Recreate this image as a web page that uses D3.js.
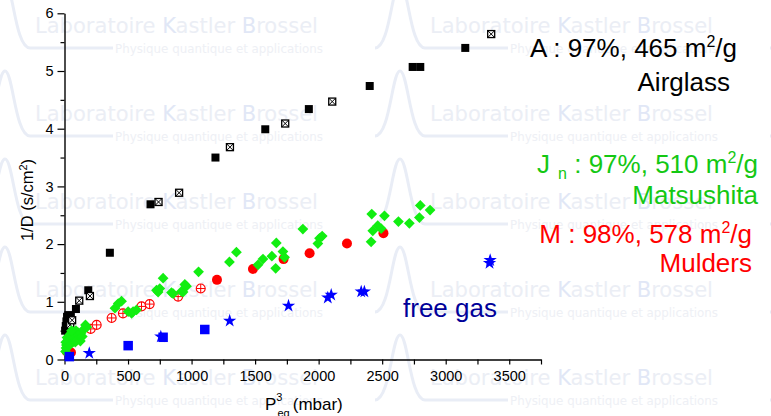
<!DOCTYPE html>
<html>
<head>
<meta charset="utf-8">
<script src="https://cdn.jsdelivr.net/npm/d3@7"></script>
<style>
  body { margin: 0; background: #fff; }
  text { font-family: "Liberation Sans", Arial, sans-serif; }
</style>
</head>
<body>
<div id="chart"></div>
<script>
// A : Airglass, filled and crossed squares
const airglassFilled = [
    [5, 0.50], [10, 0.58], [15, 0.66], [20, 0.74], [30, 0.77], [40, 0.70], [50, 0.75],
    [25, 0.62], [35, 0.55], [90, 0.875], [187, 1.20], [357, 1.85], [677, 2.69],
    [1188, 3.50], [1580, 3.99], [1923, 4.34], [2402, 4.74], [2740, 5.07], [2800, 5.07], [3154, 5.40]
];
const airglassCrossed = [
    [45, 0.60], [60, 0.68], [116, 1.02], [200, 1.10], [740, 2.73], [902, 2.89],
    [1302, 3.68], [1737, 4.09], [2107, 4.47], [3358, 5.64]
];

// Jn : Matsushita, green diamonds
const matsushita = [
    [8, 0.14], [12, 0.20], [15, 0.25], [20, 0.30], [25, 0.22], [30, 0.35], [35, 0.28],
    [40, 0.40], [45, 0.32], [50, 0.45], [55, 0.36], [60, 0.42], [65, 0.30], [70, 0.48],
    [75, 0.38], [80, 0.44], [90, 0.50], [95, 0.40], [100, 0.35], [105, 0.47], [110, 0.42],
    [120, 0.38], [125, 0.32], [130, 0.46], [140, 0.40], [150, 0.52], [165, 0.60], [175, 0.56],
    [20, 0.38], [10, 0.30], [40, 0.25], [55, 0.50], [85, 0.30],
    [397, 0.89], [423, 0.97], [449, 1.01], [501, 0.83], [528, 0.80], [540, 0.83], [567, 0.86],
    [724, 1.20], [737, 1.17], [750, 1.23], [776, 1.41], [842, 1.16], [855, 1.14], [920, 1.18],
    [933, 1.17], [947, 1.30], [960, 1.27], [1055, 1.52], [1298, 1.69], [1353, 1.86],
    [1523, 1.64], [1562, 1.74], [1632, 1.79], [1662, 1.58], [1667, 2.02], [1719, 1.87],
    [1732, 1.77], [1876, 2.26], [1994, 2.01], [2007, 2.10], [2028, 2.14],
    [2413, 2.04], [2418, 2.52], [2426, 2.23], [2465, 2.32], [2492, 2.27], [2518, 2.49],
    [2628, 2.39], [2714, 2.36], [2793, 2.46], [2800, 2.67], [2877, 2.59]
];

// M : Mulders, red filled and crossed circles
const muldersFilled = [
    [17, 0.14], [51, 0.12], [1200, 1.38], [1483, 1.57], [1724, 1.74], [1929, 1.84], [2223, 2.01], [2510, 2.19]
];
const muldersCrossed = [
    [206, 0.53], [253, 0.60], [371, 0.72], [460, 0.80], [606, 0.92], [670, 0.96], [894, 1.09], [1072, 1.23]
];

// free gas, blue squares and stars
const freeGasSquares = [[38, 0.05], [501, 0.24], [776, 0.385], [1104, 0.52]];
const freeGasStars = [
    [195, 0.11], [758, 0.395], [1300, 0.67], [1763, 0.93], [2072, 1.07], [2099, 1.12],
    [2335, 1.175], [2360, 1.175], [3350, 1.72], [3345, 1.67]
];

const xMajorTicks = [0, 500, 1000, 1500, 2000, 2500, 3000, 3500];
const xMinorTicks = [250, 750, 1250, 1750, 2250, 2750, 3250, 3750];
const yMajorTicks = [0, 1, 2, 3, 4, 5, 6];
const yMinorTicks = [0.5, 1.5, 2.5, 3.5, 4.5, 5.5];

const width = 771, height = 416;

const svg = d3.select("#chart")
    .append("svg")
    .attr("width", width)
    .attr("height", height);

// watermark tiles in the background
const wm = svg.append("g");
const rows = [33, 121, 209, 297, 385];
const cols = [35, 430];
rows.forEach(ry => {
    [5, 400, 795].forEach(px => {
        wm.append("path")
            .attr("d", `M${px - 25},${ry + 15} C${px - 10},${ry + 15} ${px - 8},${ry - 50} ${px},${ry - 50} C${px + 8},${ry - 50} ${px + 10},${ry + 15} ${px + 25},${ry + 15} H${px + 108}`)
            .attr("fill", "none")
            .attr("stroke", "#e9edf6")
            .attr("stroke-width", 3);
    });
    cols.forEach(cx => {
        const t = wm.append("text")
            .attr("x", cx)
            .attr("y", ry)
            .attr("textLength", 283)
            .attr("lengthAdjust", "spacingAndGlyphs")
            .style("font-family", "'DejaVu Sans Condensed', 'Liberation Sans Narrow', sans-serif")
            .style("font-size", "21px")
            .style("fill", "#ebeef5");
        t.append("tspan").text("Laboratoire  ");
        t.append("tspan").style("fill", "#e1e7f6").text("K");
        t.append("tspan").text("astler ");
        t.append("tspan").style("fill", "#e1e7f6").text("B");
        t.append("tspan").text("rossel");
        wm.append("text")
            .attr("x", cx + 80)
            .attr("y", ry + 20)
            .attr("textLength", 208)
            .attr("lengthAdjust", "spacingAndGlyphs")
            .style("font-family", "'DejaVu Sans Condensed', 'Liberation Sans Narrow', sans-serif")
            .style("font-size", "13px")
            .style("fill", "#eef0f5")
            .text("Physique quantique et applications");
    });
});

const x = d3.scaleLinear().domain([0, 3750]).range([64.5, 541]);
const y = d3.scaleLinear().domain([0, 6]).range([359.5, 13.3]);

// axes
svg.append("g")
    .attr("transform", `translate(0,${y(0)})`)
    .call(d3.axisBottom(x).tickValues(xMajorTicks).tickFormat(d3.format("d")).tickSize(5).tickSizeOuter(0).tickPadding(6));
svg.append("g")
    .attr("transform", `translate(0,${y(0)})`)
    .call(d3.axisBottom(x).tickValues(xMinorTicks).tickSize(5).tickSizeOuter(0).tickFormat(""))
    .select(".domain").remove();

svg.append("g")
    .attr("transform", `translate(${x(0)},0)`)
    .call(d3.axisLeft(y).tickValues(yMajorTicks).tickFormat(d3.format("d")).tickSize(7).tickSizeOuter(0).tickPadding(4));
svg.append("g")
    .attr("transform", `translate(${x(0)},0)`)
    .call(d3.axisLeft(y).tickValues(yMinorTicks).tickSize(4).tickSizeOuter(0).tickFormat(""))
    .select(".domain").remove();

svg.selectAll(".domain").attr("stroke-width", 1.4);
svg.selectAll(".tick line").attr("stroke-width", 1.2);
svg.selectAll(".tick text")
    .style("font-family", "'Liberation Sans', Arial, sans-serif")
    .style("font-size", "14.5px")
    .attr("fill", "#000");

// axis labels
svg.append("text")
    .attr("transform", "translate(33,200) rotate(-90)")
    .attr("text-anchor", "middle")
    .style("font-size", "16.5px")
    .call(t => {
        t.append("tspan").text("1/D (s/cm");
        t.append("tspan").attr("dy", -6).style("font-size", "11px").text("2");
        t.append("tspan").attr("dy", 6).text(")");
    });

const xl = svg.append("text")
    .attr("x", 265)
    .attr("y", 410)
    .style("font-size", "17px");
xl.append("tspan").text("P");
xl.append("tspan").attr("dy", -9).style("font-size", "11px").text("3");
xl.append("tspan").attr("dx", -5).attr("dy", 16).style("font-size", "11px").text("eq");
xl.append("tspan").attr("dx", 3).attr("dy", -7).text("(mbar)");

// markers
svg.append("g").selectAll("rect")
    .data(airglassFilled)
    .enter()
    .append("rect")
    .attr("x", d => x(d[0]) - 4)
    .attr("y", d => y(d[1]) - 4)
    .attr("width", 8)
    .attr("height", 8)
    .attr("fill", "#000");

const crossSq = svg.append("g").selectAll("g")
    .data(airglassCrossed)
    .enter()
    .append("g")
    .attr("transform", d => `translate(${x(d[0])},${y(d[1])})`);
crossSq.append("rect")
    .attr("x", -3.5).attr("y", -3.5)
    .attr("width", 7).attr("height", 7)
    .attr("fill", "#fff")
    .attr("stroke", "#000")
    .attr("stroke-width", 1.3);
crossSq.append("path")
    .attr("d", "M-3.5,-3.5L3.5,3.5M3.5,-3.5L-3.5,3.5")
    .attr("stroke", "#000")
    .attr("stroke-width", 1);

svg.append("g").selectAll("circle")
    .data(muldersFilled)
    .enter()
    .append("circle")
    .attr("cx", d => x(d[0]))
    .attr("cy", d => y(d[1]))
    .attr("r", 5)
    .attr("fill", "#ff0000");

const crossCirc = svg.append("g").selectAll("g")
    .data(muldersCrossed)
    .enter()
    .append("g")
    .attr("transform", d => `translate(${x(d[0])},${y(d[1])})`);
crossCirc.append("circle")
    .attr("r", 4.5)
    .attr("fill", "#fff")
    .attr("stroke", "#ff0000")
    .attr("stroke-width", 1.1);
crossCirc.append("path")
    .attr("d", "M-4.5,0H4.5M0,-4.5V4.5")
    .attr("stroke", "#ff0000")
    .attr("stroke-width", 1);

const diamond = d3.symbol().type(d3.symbolSquare).size(58);
svg.append("g").selectAll("path")
    .data(matsushita)
    .enter()
    .append("path")
    .attr("d", diamond)
    .attr("transform", d => `translate(${x(d[0])},${y(d[1])}) rotate(45)`)
    .attr("fill", "#11ee11");

svg.append("g").selectAll("rect")
    .data(freeGasSquares)
    .enter()
    .append("rect")
    .attr("x", d => x(d[0]) - 4.75)
    .attr("y", d => y(d[1]) - 4.75)
    .attr("width", 9.5)
    .attr("height", 9.5)
    .attr("fill", "#0000ff");

const star = d3.symbol().type(d3.symbolStar).size(55);
svg.append("g").selectAll("path")
    .data(freeGasStars)
    .enter()
    .append("path")
    .attr("d", star)
    .attr("transform", d => `translate(${x(d[0])},${y(d[1])})`)
    .attr("fill", "#0000ff");

// legend texts
function sampleLabel(xEnd, yBase, color, parts) {
    const t = svg.append("text")
        .attr("x", xEnd)
        .attr("y", yBase)
        .attr("text-anchor", "end")
        .style("font-size", "26px")
        .attr("fill", color);
    parts(t);
}

sampleLabel(737, 57, "#000", t => {
    t.append("tspan").text("A : 97%, 465 m");
    t.append("tspan").attr("dy", -10).style("font-size", "16px").text("2");
    t.append("tspan").attr("dy", 10).text("/g");
});
sampleLabel(730, 91, "#000", t => t.text("Airglass"));

sampleLabel(758, 173, "#14c814", t => {
    t.append("tspan").text("J");
    t.append("tspan").attr("dx", 8).attr("dy", 6).style("font-size", "16px").text("n");
    t.append("tspan").attr("dy", -6).text(" : 97%, 510 m");
    t.append("tspan").attr("dy", -10).style("font-size", "16px").text("2");
    t.append("tspan").attr("dy", 10).text("/g");
});
sampleLabel(758, 204, "#14c814", t => t.text("Matsushita"));

sampleLabel(752, 243, "#ff0000", t => {
    t.append("tspan").text("M : 98%, 578 m");
    t.append("tspan").attr("dy", -10).style("font-size", "16px").text("2");
    t.append("tspan").attr("dy", 10).text("/g");
});
sampleLabel(752, 272, "#ff0000", t => t.text("Mulders"));

svg.append("text")
    .attr("x", 403)
    .attr("y", 317)
    .style("font-size", "26px")
    .attr("fill", "#000099")
    .text("free gas");
</script>
</body>
</html>
